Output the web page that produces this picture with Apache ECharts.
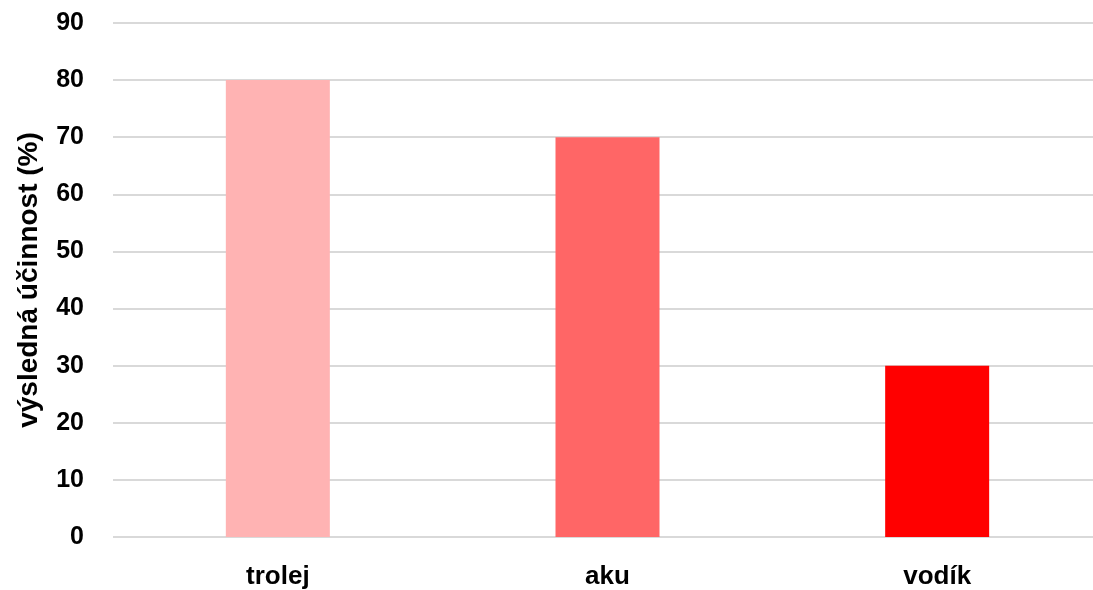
<!DOCTYPE html>
<html>
<head>
<meta charset="utf-8">
<script src="https://cdn.jsdelivr.net/npm/echarts@6/dist/echarts.min.js"></script>
<style>html,body{margin:0;padding:0;background:#fff;overflow:hidden}#c{width:1102px;height:590px}</style>
</head>
<body>
<div id="c"></div>
<script>
const categories = ['trolej', 'aku', 'vodík'];
const values = [80, 70, 30];
const barColors = ['#FFB3B3', '#FF6666', '#FF0000'];
const yAxisName = 'výsledná účinnost (%)';

const chart = echarts.init(document.getElementById('c'), null, {renderer: 'canvas'});
chart.setOption({
  animation: false,
  backgroundColor: '#ffffff',
  grid: {left: 113, top: 23, right: 0, bottom: 52, containLabel: false},
  xAxis: {
    type: 'category',
    data: categories,
    axisLine: {show: false},
    axisTick: {show: false},
    axisLabel: {color: '#000', fontFamily: 'Liberation Sans', fontWeight: 'bold', fontSize: 26, margin: 27}
  },
  yAxis: {
    type: 'value',
    min: 0, max: 90, interval: 10,
    name: yAxisName,
    nameLocation: 'middle',
    nameGap: 70,
    nameTextStyle: {color: '#000', fontFamily: 'Liberation Sans', fontWeight: 'bold', fontSize: 28},
    axisLine: {show: false},
    axisTick: {show: false},
    axisLabel: {color: '#000', fontFamily: 'Liberation Sans', fontWeight: 'bold', fontSize: 25, margin: 29},
    splitLine: {lineStyle: {color: '#D9D9D9', width: 2}}
  },
  series: [{
    type: 'bar',
    barWidth: 104,
    data: values.map((v, i) => ({value: v, itemStyle: {color: barColors[i]}}))
  }]
});
</script>
</body>
</html>
